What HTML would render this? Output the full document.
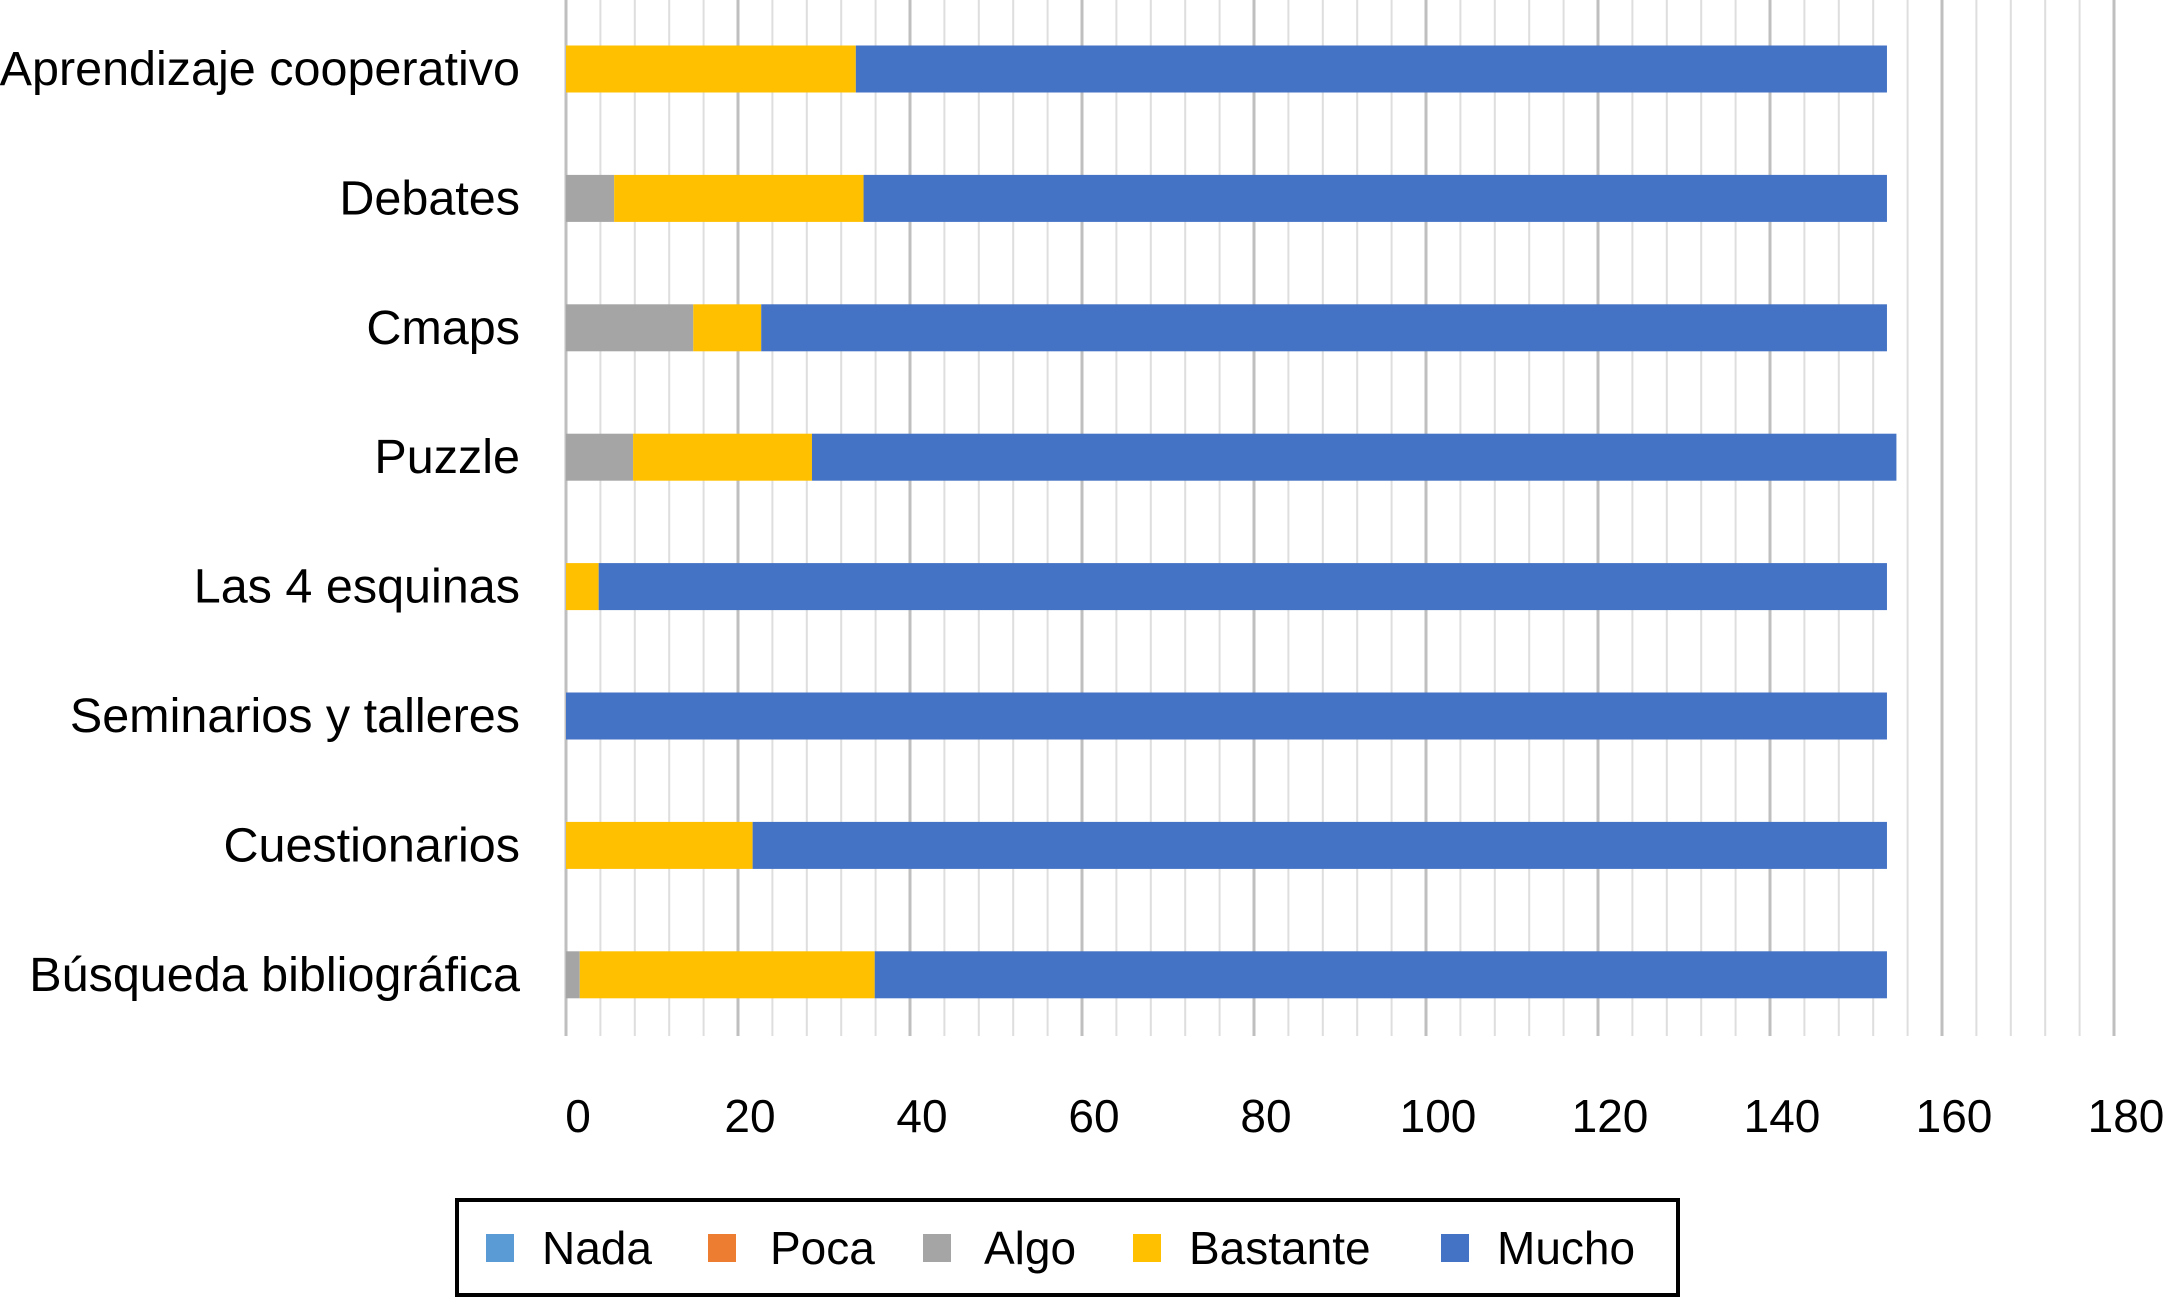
<!DOCTYPE html>
<html><head><meta charset="utf-8"><style>
html,body{margin:0;padding:0;background:#fff;}
svg{display:block;font-family:"Liberation Sans",Arial,sans-serif;}
</style></head><body>
<svg id="chart" width="2167" height="1298" viewBox="0 0 2167 1298" xmlns="http://www.w3.org/2000/svg">
<g id="grid"></g>
<g id="bars"></g>
<g id="ylabels"></g>
<g id="xlabels"></g>
<g>
<rect x="457" y="1200" width="1221" height="95" fill="#fff" stroke="#000" stroke-width="4"/>
<g id="legend"></g>
</g>
</svg>
<script>
const categories=["Aprendizaje cooperativo","Debates","Cmaps","Puzzle","Las 4 esquinas","Seminarios y talleres","Cuestionarios","Búsqueda bibliográfica"];
const seriesNames=["Nada","Poca","Algo","Bastante","Mucho"];
const nada=[0,0,0,0,0,0,0,0];
const poca=[0,0,0,0,0,0,0,0];
const algo=[0,5.6,14.8,7.8,0,0,0,1.6];
const bastante=[33.7,29,7.9,20.8,3.8,0,21.7,34.3];
const mucho=[119.9,119,130.9,126.1,149.8,153.6,131.9,117.7];
const xTicks=[0,20,40,60,80,100,120,140,160,180];
const colors=["#5b9bd5","#ed7d31","#a5a5a5","#ffc000","#4472c4"];
const NS="http://www.w3.org/2000/svg";
const x0=566, pxPerUnit=8.6;
function xs(v){return x0+v*pxPerUnit;}
function ys(i){return 69+i*129.4;}
const barH=47;
function mk(tag,attrs,parent){const e=document.createElementNS(NS,tag);for(const k in attrs)e.setAttribute(k,attrs[k]);parent.appendChild(e);return e;}
const grid=document.getElementById('grid');
for(let v=0;v<=180;v+=4){
  const major=v%20===0;
  const l=mk('line',{x1:xs(v),x2:xs(v),y1:0,y2:1036,stroke:major?'#bfbfbf':'#dedede','stroke-width':major?3:2},grid);
  
  
}
const series=[nada,poca,algo,bastante,mucho];
const bars=document.getElementById('bars');
categories.forEach((c,i)=>{
  let acc=0;
  series.forEach((s,k)=>{
    const v=s[i];
    if(v>0){
      const r=mk('rect',{x:xs(acc),y:ys(i)-barH/2,width:v*pxPerUnit,height:barH,fill:colors[k]},bars);
      
      
    }
    acc+=v;
  });
  const t=mk('text',{x:520,y:ys(i)+16,'text-anchor':'end','font-size':48.5,fill:'#000'},document.getElementById('ylabels'));
  t.textContent=c;
  
  
});
xTicks.forEach(v=>{
  const t=mk('text',{x:xs(v)+12,y:1132,'text-anchor':'middle','font-size':46,fill:'#000'},document.getElementById('xlabels'));
  t.textContent=v;
  
  
});
const legendX=[[486,542],[708,770],[923,984],[1133,1189],[1441,1497]];
const lg=document.getElementById('legend');
seriesNames.forEach((n,k)=>{
  const r=mk('rect',{x:legendX[k][0],y:1234,width:28,height:28,fill:colors[k]},lg);
  
  
  const t=mk('text',{x:legendX[k][1],y:1264,'font-size':46,fill:'#000'},lg);
  t.textContent=n;
  
  
});
</script>
</body></html>
